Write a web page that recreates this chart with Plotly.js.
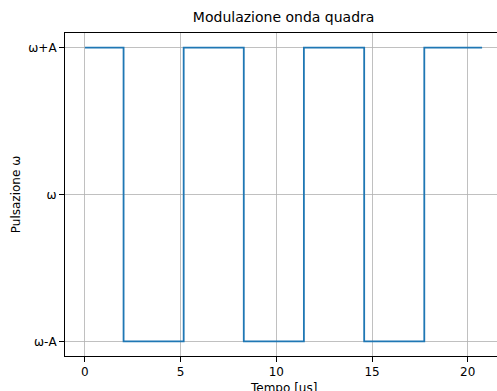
<!DOCTYPE html>
<html>
<head>
<meta charset="utf-8">
<script src="https://cdn.plot.ly/plotly-3.0.1.min.js"></script>
<style>html,body{margin:0;padding:0;overflow:hidden;background:#fff;}</style>
</head>
<body>
<div id="chart"></div>
<script>
// Transition times [us] and levels (1 = ω+A, 0 = ω, -1 = ω-A)
const times = [0, 2.02, 5.16, 8.30, 11.44, 14.59, 17.73, 20.75];
const levels = [1, -1, 1, -1, 1, -1, 1, 1];
const yTickVals = [-1, 0, 1];
const yTickText = ["ω-A", "ω", "ω+A"];
const xTickVals = [0, 5, 10, 15, 20];

const font = "DejaVu Sans, sans-serif";
const axisCommon = {
  showline: true, mirror: true, linecolor: "#000", linewidth: 1,
  ticks: "outside", ticklen: 5, tickwidth: 1, tickcolor: "#000",
  showgrid: true, gridcolor: "#b0b0b0", gridwidth: 0.8,
  zeroline: false,
  tickfont: {family: font, size: 12, color: "#000"}
};

Plotly.newPlot("chart", [{
  x: times, y: levels, type: "scatter", mode: "lines",
  line: {shape: "hv", color: "#1f77b4", width: 1.8}
}], {
  width: 502, height: 391,
  margin: {l: 65, r: 0, t: 33, b: 35},
  paper_bgcolor: "#fff", plot_bgcolor: "#fff",
  showlegend: false,
  title: {text: "Modulazione onda quadra", font: {family: font, size: 14, color: "#000"}, x: 0.565, xanchor: "center", y: 0.955, yanchor: "middle"},
  annotations: [{
    text: "Tempo [us]", xref: "paper", yref: "paper", x: 0.5, y: -0.1,
    xanchor: "center", yanchor: "middle", showarrow: false,
    font: {family: font, size: 12, color: "#000"}
  }],
  xaxis: Object.assign({}, axisCommon, {
    range: [-1.04, 21.79], tickvals: xTickVals
  }),
  yaxis: Object.assign({}, axisCommon, {
    range: [-1.1, 1.1], tickvals: yTickVals, ticktext: yTickText,
    title: {text: "Pulsazione ω", font: {family: font, size: 12, color: "#000"}, standoff: 5}
  })
}, {displayModeBar: false, staticPlot: true});
</script>
</body>
</html>
